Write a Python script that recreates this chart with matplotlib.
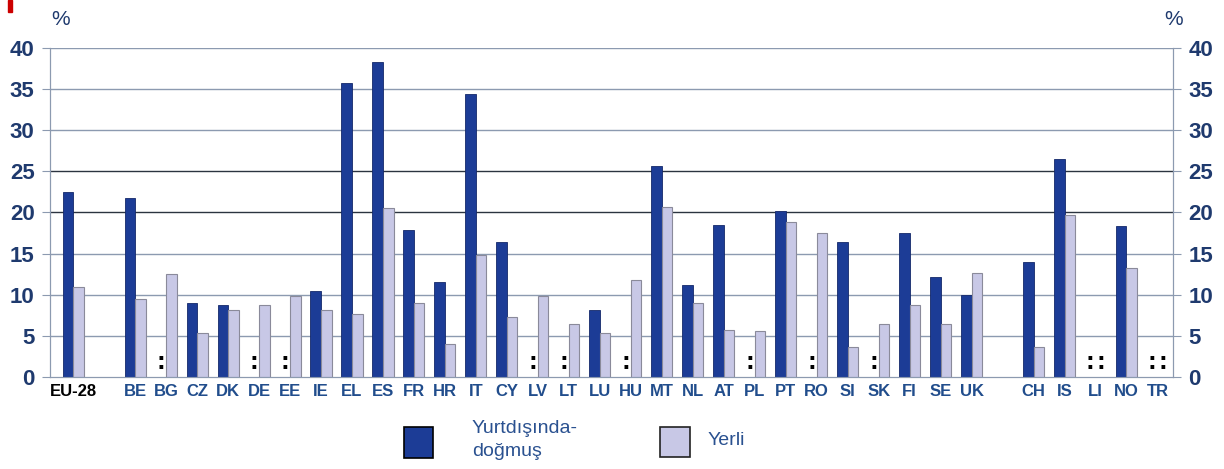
import matplotlib
matplotlib.use('Agg')
import matplotlib.pyplot as plt
from matplotlib.patches import Rectangle
import numpy as np

plt.rcParams['font.family'] = ['Liberation Sans', 'DejaVu Sans']

# veriler (":" = veri yok -> nan)
countries = ['EU-28', 'BE', 'BG', 'CZ', 'DK', 'DE', 'EE', 'IE', 'EL', 'ES', 'FR', 'HR',
             'IT', 'CY', 'LV', 'LT', 'LU', 'HU', 'MT', 'NL', 'AT', 'PL', 'PT', 'RO',
             'SI', 'SK', 'FI', 'SE', 'UK', 'CH', 'IS', 'LI', 'NO', 'TR']
foreign_born = [22.5, 21.7, np.nan, 9.0, 8.8, np.nan, np.nan, 10.4, 35.7, 38.3, 17.9, 11.5,
                34.4, 16.4, np.nan, np.nan, 8.1, np.nan, 25.6, 11.2, 18.5, np.nan, 20.2, np.nan,
                16.4, np.nan, 17.5, 12.2, 10.0, 14.0, 26.5, np.nan, 18.4, np.nan]
native = [11.0, 9.5, 12.5, 5.4, 8.1, 8.7, 9.8, 8.1, 7.6, 20.6, 9.0, 4.0,
          14.8, 7.3, 9.8, 6.4, 5.4, 11.8, 20.7, 9.0, 5.7, 5.6, 18.8, 17.5,
          3.6, 6.4, 8.8, 6.4, 12.7, 3.7, 19.7, np.nan, 13.2, np.nan]
gap_after = ['EU-28', 'UK']   # gruplar arasi bosluk
yticks = [0, 5, 10, 15, 20, 25, 30, 35, 40]

blue = '#1c3c96'
light = '#c8c8e6'
navy = '#1f3a6e'
label_blue = '#214d8c'

# x konumlari: gruplar arasinda bir bosluk
x = []
pos = 0
for c in countries:
    x.append(pos)
    pos += 2 if c in gap_after else 1
x = np.array(x, dtype=float)
fb = np.array(foreign_born)
nat = np.array(native)

fig = plt.figure(figsize=(12.24, 4.69), dpi=100)
ax = fig.add_axes([0.0408, 0.1962, 0.9175, 0.7015])

w = 0.34
ax.bar(x - w / 2, fb, width=w, color=blue, edgecolor='#14286a', linewidth=0.6, zorder=3)
ax.bar(x + w / 2, nat, width=w, color=light, edgecolor='#8a8a9a', linewidth=0.8, zorder=3)

# eksik veri isaretleri
for xi, a, b in zip(x, fb, nat):
    if np.isnan(a):
        ax.text(xi - w / 2, 0.4, ':', ha='center', va='bottom', fontsize=19,
                fontweight='bold', color='black', zorder=4)
    if np.isnan(b):
        ax.text(xi + w / 2, 0.4, ':', ha='center', va='bottom', fontsize=19,
                fontweight='bold', color='black', zorder=4)

# izgara cizgileri
for t in yticks[1:]:
    col = '#2b3440' if t in (20, 25) else '#8c9ab0'
    ax.axhline(t, color=col, linewidth=1.0, zorder=1)

ax.set_ylim(0, 40)
ax.set_xlim(-0.75, x[-1] + 0.5)
ax.set_yticks(yticks)
ax.set_yticklabels([str(t) for t in yticks], fontsize=16, fontweight='bold', color=navy)
ax.set_xticks(x)
ax.set_xticklabels(countries, fontsize=12, fontweight='bold', color=label_blue)
ax.get_xticklabels()[0].set_color('black')
ax.tick_params(axis='x', length=0, pad=5)
ax.tick_params(axis='y', length=6, color='#8c9ab0', pad=5)

ax2 = ax.twinx()
ax2.set_ylim(0, 40)
ax2.set_yticks(yticks)
ax2.set_yticklabels([str(t) for t in yticks], fontsize=16, fontweight='bold', color=navy)
ax2.tick_params(axis='y', length=6, color='#8c9ab0', pad=5)

for a in (ax, ax2):
    a.spines['top'].set_visible(False)
    a.spines['left'].set_color('#8c9ab0')
    a.spines['right'].set_color('#8c9ab0')
    a.spines['bottom'].set_color('#8c9ab0')

fig.text(0.042, 0.958, '%', fontsize=15, color=navy, ha='left', va='center')
fig.text(0.951, 0.958, '%', fontsize=15, color=navy, ha='left', va='center')

# kucuk kirmizi isaret (sol ust)
fig.patches.append(Rectangle((0.0066, 0.975), 0.003, 0.025, transform=fig.transFigure,
                             color='#cc0000', figure=fig))

# lejant
fig.patches.append(Rectangle((404 / 1224, 1 - 458 / 469), 29 / 1224, 31 / 469,
                             transform=fig.transFigure, facecolor=blue,
                             edgecolor='black', linewidth=1.2, figure=fig))
fig.text(472 / 1224, 1 - 440 / 469, 'Yurtdışında-\ndoğmuş', fontsize=14, color='#2a5190',
         ha='left', va='center', linespacing=1.45)
fig.patches.append(Rectangle((660 / 1224, 1 - 457 / 469), 30 / 1224, 30 / 469,
                             transform=fig.transFigure, facecolor=light,
                             edgecolor='#222222', linewidth=1.2, figure=fig))
fig.text(708 / 1224, 1 - 440 / 469, 'Yerli', fontsize=14, color='#2a5190',
         ha='left', va='center')

fig.savefig('out.png', dpi=100)
